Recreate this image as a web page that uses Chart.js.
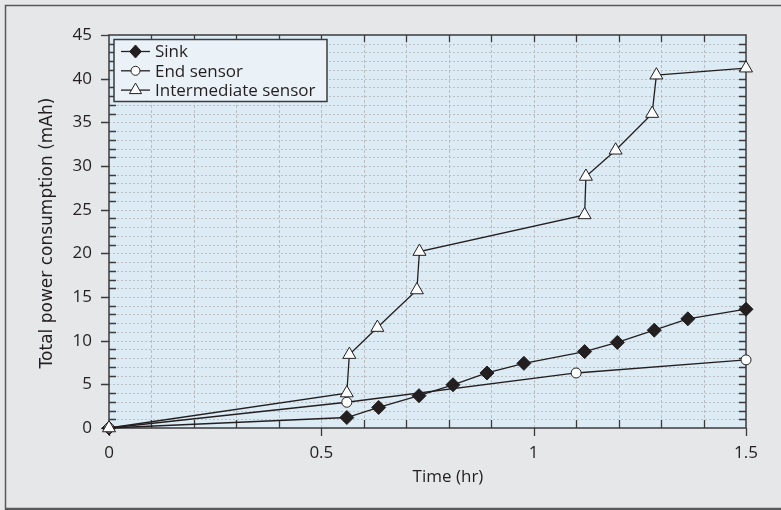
<!DOCTYPE html>
<html>
<head>
<meta charset="utf-8">
<script src="https://cdn.jsdelivr.net/npm/chart.js@4.4.1/dist/chart.umd.min.js"></script>
<style>
  html, body { margin: 0; padding: 0; background: #e6e7e8; }
  #wrap { width: 781px; height: 510px; position: relative; }
  canvas { display: block; }
</style>
</head>
<body>
<div id="wrap"><canvas id="c" width="781" height="510"></canvas></div>
<script>
// ---- data ----
const sinkTime  = [0, 0.56, 0.635, 0.73, 0.81, 0.89, 0.977, 1.12, 1.197, 1.284, 1.363, 1.5];
const sinkPower = [0, 1.2, 2.35, 3.7, 4.95, 6.3, 7.4, 8.75, 9.8, 11.2, 12.5, 13.6];
const endTime   = [0, 0.56, 1.1, 1.5];
const endPower  = [0, 2.95, 6.3, 7.8];
const interTime  = [0, 0.56, 0.566, 0.632, 0.725, 0.731, 1.12, 1.123, 1.193, 1.279, 1.289, 1.5];
const interPower = [0, 4.0, 8.4, 11.5, 15.8, 20.2, 24.4, 28.8, 31.8, 36.0, 40.4, 41.2];
const seriesLabels = ['Sink', 'End sensor', 'Intermediate sensor'];
const xTickLabels = ['0', '0.5', '1', '1.5'];
const yTickLabels = ['0', '5', '10', '15', '20', '25', '30', '35', '40', '45'];
const xTitle = 'Time (hr)';
const yTitle = 'Total power consumption (mAh)';

const INK = '#231f20';
const TICKFONT = '17px "Open Sans"';

function pts(xs, ys) { return xs.map((x, i) => ({ x: x, y: ys[i] })); }

const styles = [
  { pointStyle: 'rectRot', pointRadius: 7, bg: INK },
  { pointStyle: 'circle', pointRadius: 5, bg: '#ffffff' },
  { pointStyle: 'triangle', pointRadius: 7.5, bg: '#ffffff' }
];

function drawMarker(ctx, style, x, y, r) {
  ctx.beginPath();
  if (style === 'rectRot') {
    ctx.moveTo(x, y - r); ctx.lineTo(x + r * 0.9, y); ctx.lineTo(x, y + r); ctx.lineTo(x - r * 0.9, y); ctx.closePath();
  } else if (style === 'circle') {
    ctx.arc(x, y, r, 0, Math.PI * 2);
  } else {
    ctx.moveTo(x, y - r); ctx.lineTo(x + r * 0.866, y + r * 0.5); ctx.lineTo(x - r * 0.866, y + r * 0.5); ctx.closePath();
  }
}

const framePlugin = {
  id: 'framePlugin',
  beforeDraw(chart) {
    const { ctx, chartArea: a, scales } = chart;
    const x = scales.x, y = scales.y;
    ctx.save();
    ctx.fillStyle = '#e6e7e8';
    ctx.fillRect(0, 0, chart.width, chart.height);
    // outer frame
    ctx.strokeStyle = '#58595b';
    ctx.lineWidth = 1.5;
    ctx.beginPath(); ctx.moveTo(5.5, chart.height); ctx.lineTo(5.5, 5.5); ctx.lineTo(chart.width, 5.5); ctx.stroke();
    ctx.lineWidth = 2.5;
    ctx.beginPath(); ctx.moveTo(5, 509); ctx.lineTo(chart.width, 509); ctx.stroke();
    // plot background
    ctx.fillStyle = '#ddebf5';
    ctx.fillRect(a.left, a.top, a.right - a.left, a.bottom - a.top);
    // horizontal dotted grid every 1 unit
    ctx.strokeStyle = '#bcc1c6';
    ctx.lineWidth = 1;
    ctx.setLineDash([2, 2]);
    for (let v = 1; v < 45; v++) {
      const py = Math.round(y.getPixelForValue(v)) + 0.5;
      ctx.beginPath(); ctx.moveTo(a.left, py); ctx.lineTo(a.right, py); ctx.stroke();
    }
    // vertical dashed grid every 0.1
    ctx.strokeStyle = '#b8bdc2';
    ctx.setLineDash([3, 2]);
    for (let i = 1; i < 15; i++) {
      const px = Math.round(x.getPixelForValue(i / 10)) + 0.5;
      ctx.beginPath(); ctx.moveTo(px, a.top); ctx.lineTo(px, a.bottom); ctx.stroke();
    }
    ctx.restore();
  },
  beforeDatasetsDraw(chart) {
    const { ctx, chartArea: a, scales } = chart;
    const x = scales.x, y = scales.y;
    ctx.save();
    ctx.strokeStyle = '#3b3b3c';
    ctx.lineWidth = 1.5;
    ctx.setLineDash([]);
    ctx.strokeRect(a.left, a.top, a.right - a.left, a.bottom - a.top);
    ctx.lineWidth = 1.3;
    // y ticks
    for (let v = 0; v <= 45; v++) {
      const py = Math.round(y.getPixelForValue(v)) + 0.5;
      ctx.beginPath();
      if (v % 5 === 0) {
        ctx.moveTo(a.left - 8, py); ctx.lineTo(a.left, py);
      } else {
        ctx.moveTo(a.left, py); ctx.lineTo(a.left + 7, py);
      }
      if (v > 0 && v < 45) { ctx.moveTo(a.right, py); ctx.lineTo(a.right - 7, py); }
      ctx.stroke();
    }
    // x ticks
    for (let i = 0; i <= 15; i++) {
      const px = Math.round(x.getPixelForValue(i / 10)) + 0.5;
      ctx.beginPath();
      if (i % 5 === 0) {
        ctx.moveTo(px, a.bottom); ctx.lineTo(px, a.bottom + 8);
      } else {
        ctx.moveTo(px, a.bottom); ctx.lineTo(px, a.bottom - 8);
      }
      if (i > 0 && i < 15) { ctx.moveTo(px, a.top); ctx.lineTo(px, a.top + 7); }
      ctx.stroke();
    }
    ctx.restore();
  },
  afterDraw(chart) {
    const { ctx, chartArea: a } = chart;
    ctx.save();
    // axis titles
    ctx.fillStyle = INK;
    ctx.font = '17px "Open Sans"';
    ctx.textAlign = 'center';
    ctx.textBaseline = 'middle';
    ctx.fillText(xTitle, 448, 477);
    ctx.save();
    ctx.translate(48, 233);
    ctx.rotate(-Math.PI / 2);
    ctx.font = '17px "DejaVu Sans"';
    ctx.fillText(yTitle, 0, 0);
    ctx.restore();
    // legend
    const bx = 114, by = 39.5, bw = 213, bh = 62;
    ctx.fillStyle = '#eaf2f8';
    ctx.fillRect(bx, by, bw, bh);
    ctx.strokeStyle = '#3b3b3c';
    ctx.lineWidth = 1.5;
    ctx.strokeRect(bx, by, bw, bh);
    ctx.font = TICKFONT;
    ctx.textAlign = 'left';
    ctx.textBaseline = 'middle';
    chart.data.datasets.forEach((ds, i) => {
      const ly = 51.5 + i * 19.3;
      ctx.strokeStyle = INK;
      ctx.lineWidth = 1.3;
      ctx.beginPath(); ctx.moveTo(121, ly); ctx.lineTo(150, ly); ctx.stroke();
      const st = styles[i];
      ctx.fillStyle = st.bg;
      drawMarker(ctx, st.pointStyle, 135.5, ly, i === 0 ? 6.5 : (i === 1 ? 4.5 : 7));
      ctx.fill(); ctx.lineWidth = 1; ctx.stroke();
      ctx.fillStyle = INK;
      ctx.fillText(ds.label, 155, ly + 1);
    });
    ctx.restore();
  }
};

const datasets = [
  { data: pts(sinkTime, sinkPower), order: 2 },
  { data: pts(endTime, endPower), order: 1 },
  { data: pts(interTime, interPower), order: 0 }
].map((d, i) => Object.assign(d, {
  label: seriesLabels[i],
  showLine: true,
  borderColor: INK,
  borderWidth: 1.3,
  pointStyle: styles[i].pointStyle,
  pointRadius: styles[i].pointRadius,
  pointHoverRadius: styles[i].pointRadius,
  pointBackgroundColor: styles[i].bg,
  pointBorderColor: INK,
  pointBorderWidth: 1,
  tension: 0,
  clip: false
}));

new Chart(document.getElementById('c'), {
  type: 'scatter',
  data: { datasets: datasets },
  options: {
    responsive: false,
    animation: false,
    devicePixelRatio: 1,
    layout: { padding: { left: 0, top: 35, right: 35, bottom: 0 } },
    plugins: { legend: { display: false }, tooltip: { enabled: false } },
    scales: {
      x: {
        type: 'linear', min: 0, max: 1.5,
        grid: { display: true, drawOnChartArea: false, drawTicks: true, tickLength: 8, color: 'rgba(0,0,0,0)' },
        border: { display: false },
        ticks: { stepSize: 0.5, font: { family: 'Open Sans', size: 17 }, color: INK, padding: 7,
                 maxRotation: 0, autoSkip: false,
                 callback: (v, i) => xTickLabels[i] },
        afterFit: (s) => { s.height = 82; }
      },
      y: {
        type: 'linear', min: 0, max: 45,
        grid: { display: true, drawOnChartArea: false, drawTicks: true, tickLength: 8, color: 'rgba(0,0,0,0)' },
        border: { display: false },
        ticks: { stepSize: 5, font: { family: 'Open Sans', size: 17 }, color: INK, padding: 9,
                 autoSkip: false,
                 callback: (v, i) => yTickLabels[i] },
        afterFit: (s) => { s.width = 109; }
      }
    }
  },
  plugins: [framePlugin]
});
</script>
</body>
</html>
